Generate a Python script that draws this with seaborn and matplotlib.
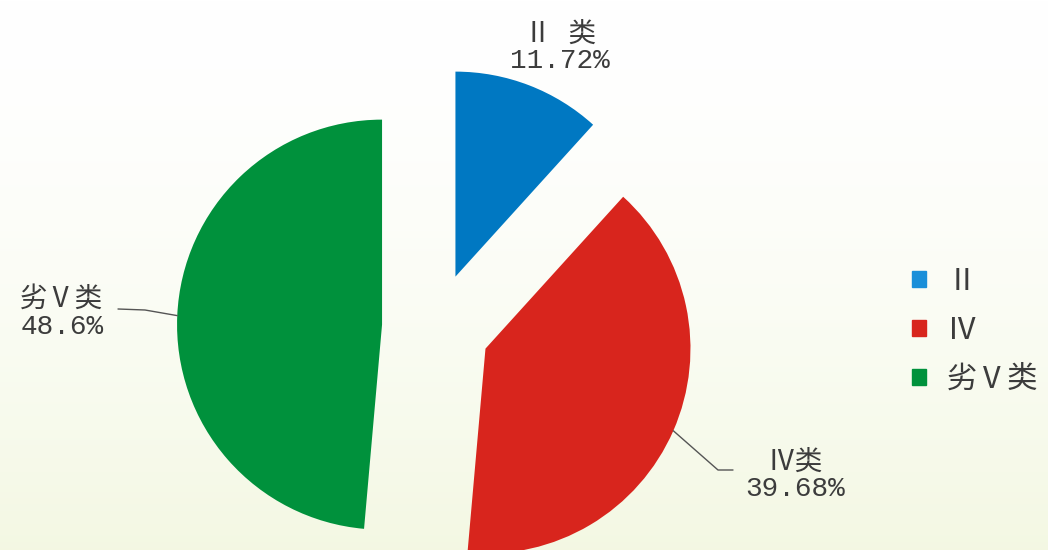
import matplotlib
matplotlib.use("Agg")
import matplotlib.pyplot as plt
import matplotlib.patches as mpatches
import seaborn as sns
import numpy as np

# data
categories = ["Ⅱ 类", "Ⅳ类", "劣Ⅴ类"]
legend_names = ["Ⅱ", "Ⅳ", "劣Ⅴ类"]
shares = [11.72, 39.68, 48.6]
share_text = ["11.72%", "39.68%", "48.6%"]
pie_colors = ["#0078C2", "#D8251D", "#00913C"]
legend_colors = ["#1A8FD9", "#D8251D", "#00913C"]

sns.set_theme(style="white")
plt.rcParams["font.family"] = ["Liberation Mono", "Noto Sans CJK SC", "DejaVu Sans"]
text_color = "#3c3c3c"

W, H = 1048, 550
fig = plt.figure(figsize=(W / 100, H / 100), dpi=100)
ax = fig.add_axes([0, 0, 1, 1])

# light green background gradient at the bottom
grad = np.linspace(0, 1, 256) ** 1.6
bg = np.ones((256, 1, 3))
low = np.array([0.955, 0.972, 0.89])
for i, g in enumerate(grad):
    bg[i, 0] = (1 - g) * np.array([1, 1, 1]) + g * low
ax.imshow(bg, extent=(0, W, 0, H), origin="upper", aspect="auto", zorder=0)

# pie in pixel-like data units; explode is absolute here
cx, cy, r = 436, 223, 205
wedges, _ = ax.pie(shares, colors=pie_colors, startangle=90, counterclock=False,
                   explode=[54] * 3, radius=r, center=(cx, cy),
                   wedgeprops=dict(linewidth=0), frame=True)
for w in wedges:
    w.set_zorder(2)

ax.set_xlim(0, W)
ax.set_ylim(0, H)
ax.set_aspect("equal")
ax.axis("off")


def edge_point(w, frac=1.0):
    ang = np.deg2rad((w.theta1 + w.theta2) / 2)
    x0, y0 = w.center
    return x0 + w.r * frac * np.cos(ang), y0 + w.r * frac * np.sin(ang)


fs = 20
# blue label (no leader)
ax.text(560, H - 48, categories[0] + "\n" + share_text[0], ha="center", va="center",
        fontsize=fs, color=text_color, linespacing=1.05, zorder=3)

# red label with elbow leader
px, py = edge_point(wedges[1])
ax.plot([px, 718, 733], [py, H - 470, H - 470], color="#555555", lw=1, zorder=3)
ax.text(795, H - 476, categories[1] + "\n" + share_text[1], ha="center", va="center",
        fontsize=fs, color=text_color, linespacing=1.05, zorder=3)

# green label with leader
px, py = edge_point(wedges[2])
ax.plot([118, 145, px], [H - 309, H - 310, py], color="#555555", lw=1, zorder=3)
ax.text(62, H - 313, categories[2] + "\n" + share_text[2], ha="center", va="center",
        fontsize=fs, color=text_color, linespacing=1.05, zorder=3)

handles = [mpatches.Patch(color=c, label=n) for c, n in zip(legend_colors, legend_names)]
leg = fig.legend(handles=handles, loc="center left", bbox_to_anchor=(0.870, 0.398),
                 frameon=False, fontsize=22, handlelength=0.45, handleheight=0.45,
                 handletextpad=0.7, labelspacing=0.62, labelcolor=text_color,
                 borderaxespad=0, borderpad=0)

fig.savefig("out.png", dpi=100)
